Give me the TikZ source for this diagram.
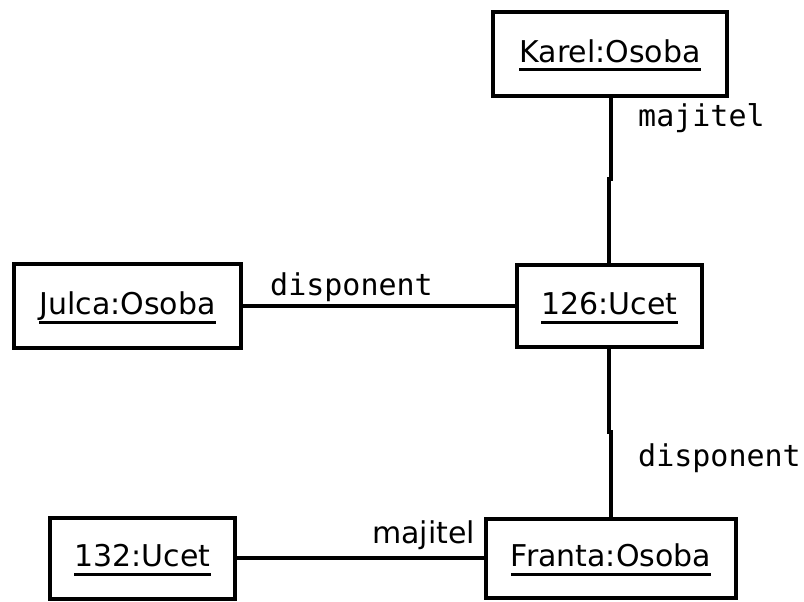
\documentclass[tikz,border=0pt]{standalone}
\usepackage{fontspec}
\setmainfont{DejaVu Sans}
\setmonofont{DejaVu Sans Mono}
\newcommand\objname[1]{\setbox0=\hbox{#1}\rlap{\vrule height -6pt depth 9pt width \wd0}\box0}
\tikzset{
  objbox/.style={draw, line width=4pt, inner sep=0pt, fill=white},
  objtext/.style={anchor=base, inner sep=0pt, font=\fontsize{30}{36}\selectfont},
  conn/.style={line width=4pt},
  rolelabel/.style={anchor=base west, inner sep=0pt, font=\fontsize{30}{36}\selectfont\ttfamily},
  rolelabelsans/.style={anchor=base west, inner sep=0pt, font=\fontsize{30}{36}\selectfont},
}
\begin{document}
\begin{tikzpicture}[x=1pt, y=-1pt]
\useasboundingbox (0,0) rectangle (804,602);
% connectors first (behind boxes)
\coordinate (j1a) at (610.5,179);
\coordinate (j1b) at (608.5,179);
\coordinate (j2a) at (609,432);
\coordinate (j2b) at (611,432);
% boxes
\node[objbox, minimum width=234pt, minimum height=84pt] (karel) at (610,54) {};
\node[objbox, minimum width=227pt, minimum height=84pt] (julca) at (127.5,306) {};
\node[objbox, minimum width=185pt, minimum height=82pt] (u126) at (609.5,306) {};
\node[objbox, minimum width=185pt, minimum height=81pt] (u132) at (142.5,558) {};
\node[objbox, minimum width=250pt, minimum height=79pt] (franta) at (611,558) {};
% texts
\node[objtext] (tkarel) at ([yshift=-8.5pt]karel.center) {\objname{Karel:Osoba}};
\node[objtext] (tjulca) at ([yshift=-8.5pt]julca.center) {\objname{Julca:Osoba}};
\node[objtext] (t126) at ([yshift=-8.5pt]u126.center) {\objname{126:Ucet}};
\node[objtext] (t132) at ([yshift=-8.5pt]u132.center) {\objname{132:Ucet}};
\node[objtext] (tfranta) at ([yshift=-8.5pt]franta.center) {\objname{Franta:Osoba}};
% connectors
\draw[conn] (karel.south -| j1a) -- (j1a) -- (j1b) -- (u126.north -| j1b);
\draw[conn] (u126.south -| j2a) -- (j2a) -- (j2b) -- (franta.north -| j2b);
\draw[conn] (julca.east) -- (u126.west);
\draw[conn] (u132.east) -- (franta.west);
% role labels
\node[rolelabel] (l1) at (638,126) {majitel};
\node[rolelabel] (l2) at (270,295) {disponent};
\node[rolelabel] (l3) at (638,466) {disponent};
\node[rolelabelsans] (l4) at (372,543) {majitel};
\end{tikzpicture}
\end{document}
